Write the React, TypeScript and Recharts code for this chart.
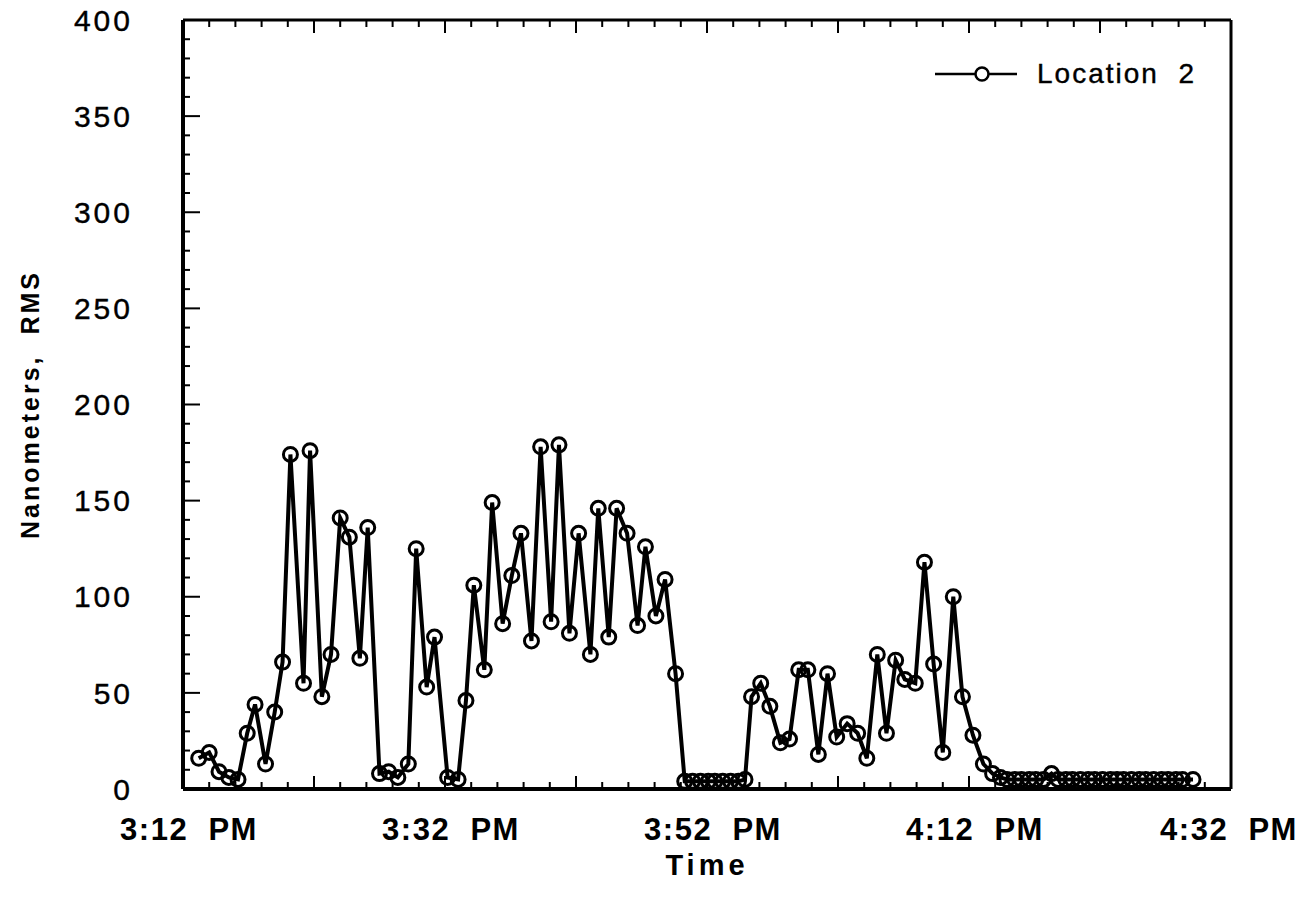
import React from "react";
import {
  LineChart,
  Line,
  XAxis,
  YAxis,
  Legend,
} from "recharts";

// minutes after 3:12 PM for each sample
const minutes = [
  1.2, 2.0, 2.75, 3.5, 4.2, 4.9, 5.5, 6.3, 7.0, 7.6,
  8.2, 9.2, 9.7, 10.6, 11.3, 12.0, 12.7, 13.5, 14.1, 15.0,
  15.7, 16.4, 17.2, 17.8, 18.6, 19.2, 20.2, 21.0, 21.6, 22.2,
  23.0, 23.6, 24.4, 25.1, 25.8, 26.6, 27.3, 28.1, 28.7, 29.5,
  30.2, 31.1, 31.7, 32.5, 33.1, 33.9, 34.7, 35.3, 36.1, 36.8,
  37.6, 38.3, 38.9, 39.5, 40.1, 40.6, 41.2, 41.8, 42.4, 42.9,
  43.4, 44.1, 44.8, 45.6, 46.3, 47.0, 47.7, 48.5, 49.2, 49.9,
  50.7, 51.5, 52.2, 53.0, 53.7, 54.4, 55.1, 55.9, 56.6, 57.3,
  58.0, 58.8, 59.5, 60.3, 61.1, 61.8, 62.4, 62.9, 63.5, 64.0,
  64.6, 65.1, 65.7, 66.3, 66.8, 67.4, 67.9, 68.5, 69.1, 69.6,
  70.2, 70.8, 71.3, 71.8, 72.4, 73.0, 73.5, 74.1, 74.7, 75.2,
  75.8, 76.3, 77.1,
];

// Location 2 readings, nanometers RMS
const location2 = [
  16, 19, 9, 6, 5, 29, 44, 13, 40, 66,
  174, 55, 176, 48, 70, 141, 131, 68, 136, 8,
  9, 6, 13, 125, 53, 79, 6, 5, 46, 106,
  62, 149, 86, 111, 133, 77, 178, 87, 179, 81,
  133, 70, 146, 79, 146, 133, 85, 126, 90, 109,
  60, 4, 4, 4, 4, 4, 4, 4, 4, 5,
  48, 55, 43, 24, 26, 62, 62, 18, 60, 27,
  34, 29, 16, 70, 29, 67, 57, 55, 118, 65,
  19, 100, 48, 28, 13, 8, 6, 5, 5, 5,
  5, 5, 5, 8, 5, 5, 5, 5, 5, 5,
  5, 5, 5, 5, 5, 5, 5, 5, 5, 5,
  5, 5, 5,
];

const timeTicks = [0, 20, 40, 60, 80];
const timeLabels = [
  "3:12\u00a0\u00a0PM",
  "3:32\u00a0\u00a0PM",
  "3:52\u00a0\u00a0PM",
  "4:12\u00a0\u00a0PM",
  "4:32\u00a0\u00a0PM",
];
const timeMinorTicks = Array.from({ length: 41 }, (_, i) => i * 2);
const nmMinorTicks = Array.from({ length: 41 }, (_, i) => i * 10);

const data = minutes.map((t, i) => ({ t, loc2: location2[i] }));

const FONT = '"Liberation Sans", Arial, Helvetica, sans-serif';
const X_MARGIN = 29;
const Y_MARGIN = 50;

const tickLen = (major: boolean, long: number) => (major ? long : 7);

// bottom axis: inward tick plus the clock label on every 20 minutes
const BottomTick = ({ x, y, payload }: any) => {
  const v = payload.value;
  const axisY = y - X_MARGIN;
  const len = tickLen(v % 10 === 0, 13);
  const idx = timeTicks.indexOf(v);
  // last label would run off the right edge, so it stays centred
  const dx = idx === timeTicks.length - 1 ? -2 : 6;
  return (
    <g>
      <line x1={x} x2={x} y1={axisY} y2={axisY - len} stroke="#000" strokeWidth={2} />
      {idx >= 0 && (
        <text x={x + dx} y={y} dy="0.71em" textAnchor="middle" fill="#000" fontSize={31}
          fontWeight={700} fontFamily={FONT} letterSpacing={1.5}>
          {timeLabels[idx]}
        </text>
      )}
    </g>
  );
};

const TopTick = ({ x, y, payload }: any) => {
  const len = tickLen(payload.value % 10 === 0, 13);
  return <line x1={x} x2={x} y1={y} y2={y + len} stroke="#000" strokeWidth={2} />;
};

// left axis: inward tick plus the value on every 50
const LeftTick = ({ x, y, payload }: any) => {
  const v = payload.value;
  const axisX = x + Y_MARGIN;
  const major = v % 50 === 0;
  return (
    <g>
      <line x1={axisX} x2={axisX + tickLen(major, 17)} y1={y} y2={y} stroke="#000" strokeWidth={2} />
      {major && (
        <text x={x} y={y} dy="0.355em" textAnchor="end" fill="#000" stroke="#000" strokeWidth={0.4}
          fontSize={30} fontFamily={FONT} letterSpacing={3}>
          {v}
        </text>
      )}
    </g>
  );
};

const RightTick = ({ x, y, payload }: any) => {
  const len = tickLen(payload.value % 50 === 0, 17);
  return <line x1={x} x2={x - len} y1={y} y2={y} stroke="#000" strokeWidth={2} />;
};

const LegendContent = () => (
  <div style={{ display: "flex", alignItems: "center", fontFamily: FONT }}>
    <svg width={82} height={20}>
      <line x1={0} y1={10} x2={82} y2={10} stroke="#000" strokeWidth={2.5} />
      <circle cx={47} cy={10} r={6.5} fill="#fff" stroke="#000" strokeWidth={2.5} />
    </svg>
    <span style={{ marginLeft: 20, fontSize: 28, letterSpacing: 2, color: "#000", WebkitTextStroke: "0.4px #000" }}>
      Location&nbsp; 2
    </span>
  </div>
);

export default function App() {
  return (
    <div style={{ width: 1305, height: 909, background: "#fff" }}>
      <style>{"body{margin:0}"}</style>
      <LineChart
        width={1305}
        height={909}
        data={data}
        margin={{ top: 19, right: 73, bottom: 50, left: 0 }}
      >
        <XAxis
          xAxisId="top"
          orientation="top"
          dataKey="t"
          type="number"
          domain={[0, 80]}
          ticks={timeMinorTicks}
          interval={0}
          height={1}
          tickLine={false}
          tickSize={0}
          tickMargin={0}
          tick={<TopTick />}
          axisLine={{ stroke: "#000", strokeWidth: 3 }}
        />
        <XAxis
          xAxisId="main"
          dataKey="t"
          type="number"
          domain={[0, 80]}
          ticks={timeMinorTicks}
          interval={0}
          height={70}
          tickLine={false}
          tickSize={0}
          tickMargin={X_MARGIN}
          tick={<BottomTick />}
          axisLine={{ stroke: "#000", strokeWidth: 4 }}
          label={{
            value: "Time",
            position: "insideBottom",
            offset: -16,
            style: { fill: "#000", fontSize: 29, fontWeight: 700, fontFamily: FONT, letterSpacing: 4, textAnchor: "middle" },
          }}
        />

        <YAxis
          yAxisId="right"
          orientation="right"
          type="number"
          domain={[0, 400]}
          ticks={nmMinorTicks}
          interval={0}
          width={1}
          tickLine={false}
          tickSize={0}
          tickMargin={0}
          tick={<RightTick />}
          axisLine={{ stroke: "#000", strokeWidth: 3 }}
        />
        <YAxis
          yAxisId="main"
          type="number"
          domain={[0, 400]}
          ticks={nmMinorTicks}
          interval={0}
          width={183}
          tickLine={false}
          tickSize={0}
          tickMargin={Y_MARGIN}
          tick={<LeftTick />}
          axisLine={{ stroke: "#000", strokeWidth: 4 }}
          label={{
            value: "Nanometers,\u00a0\u00a0RMS",
            angle: -90,
            position: "insideLeft",
            offset: 30,
            style: { fill: "#000", fontSize: 25, fontWeight: 700, fontFamily: FONT, letterSpacing: 3, textAnchor: "middle" },
          }}
        />

        <Legend
          layout="horizontal"
          verticalAlign="middle"
          align="center"
          content={<LegendContent />}
          wrapperStyle={{ top: 58, left: 935, width: "auto" }}
        />
        <Line
          xAxisId="main"
          yAxisId="main"
          type="linear"
          dataKey="loc2"
          name="Location 2"
          stroke="#000"
          strokeWidth={4}
          dot={{ r: 7, stroke: "#000", strokeWidth: 3, fill: "none" }}
          activeDot={false}
          isAnimationActive={false}
        />
      </LineChart>
    </div>
  );
}
